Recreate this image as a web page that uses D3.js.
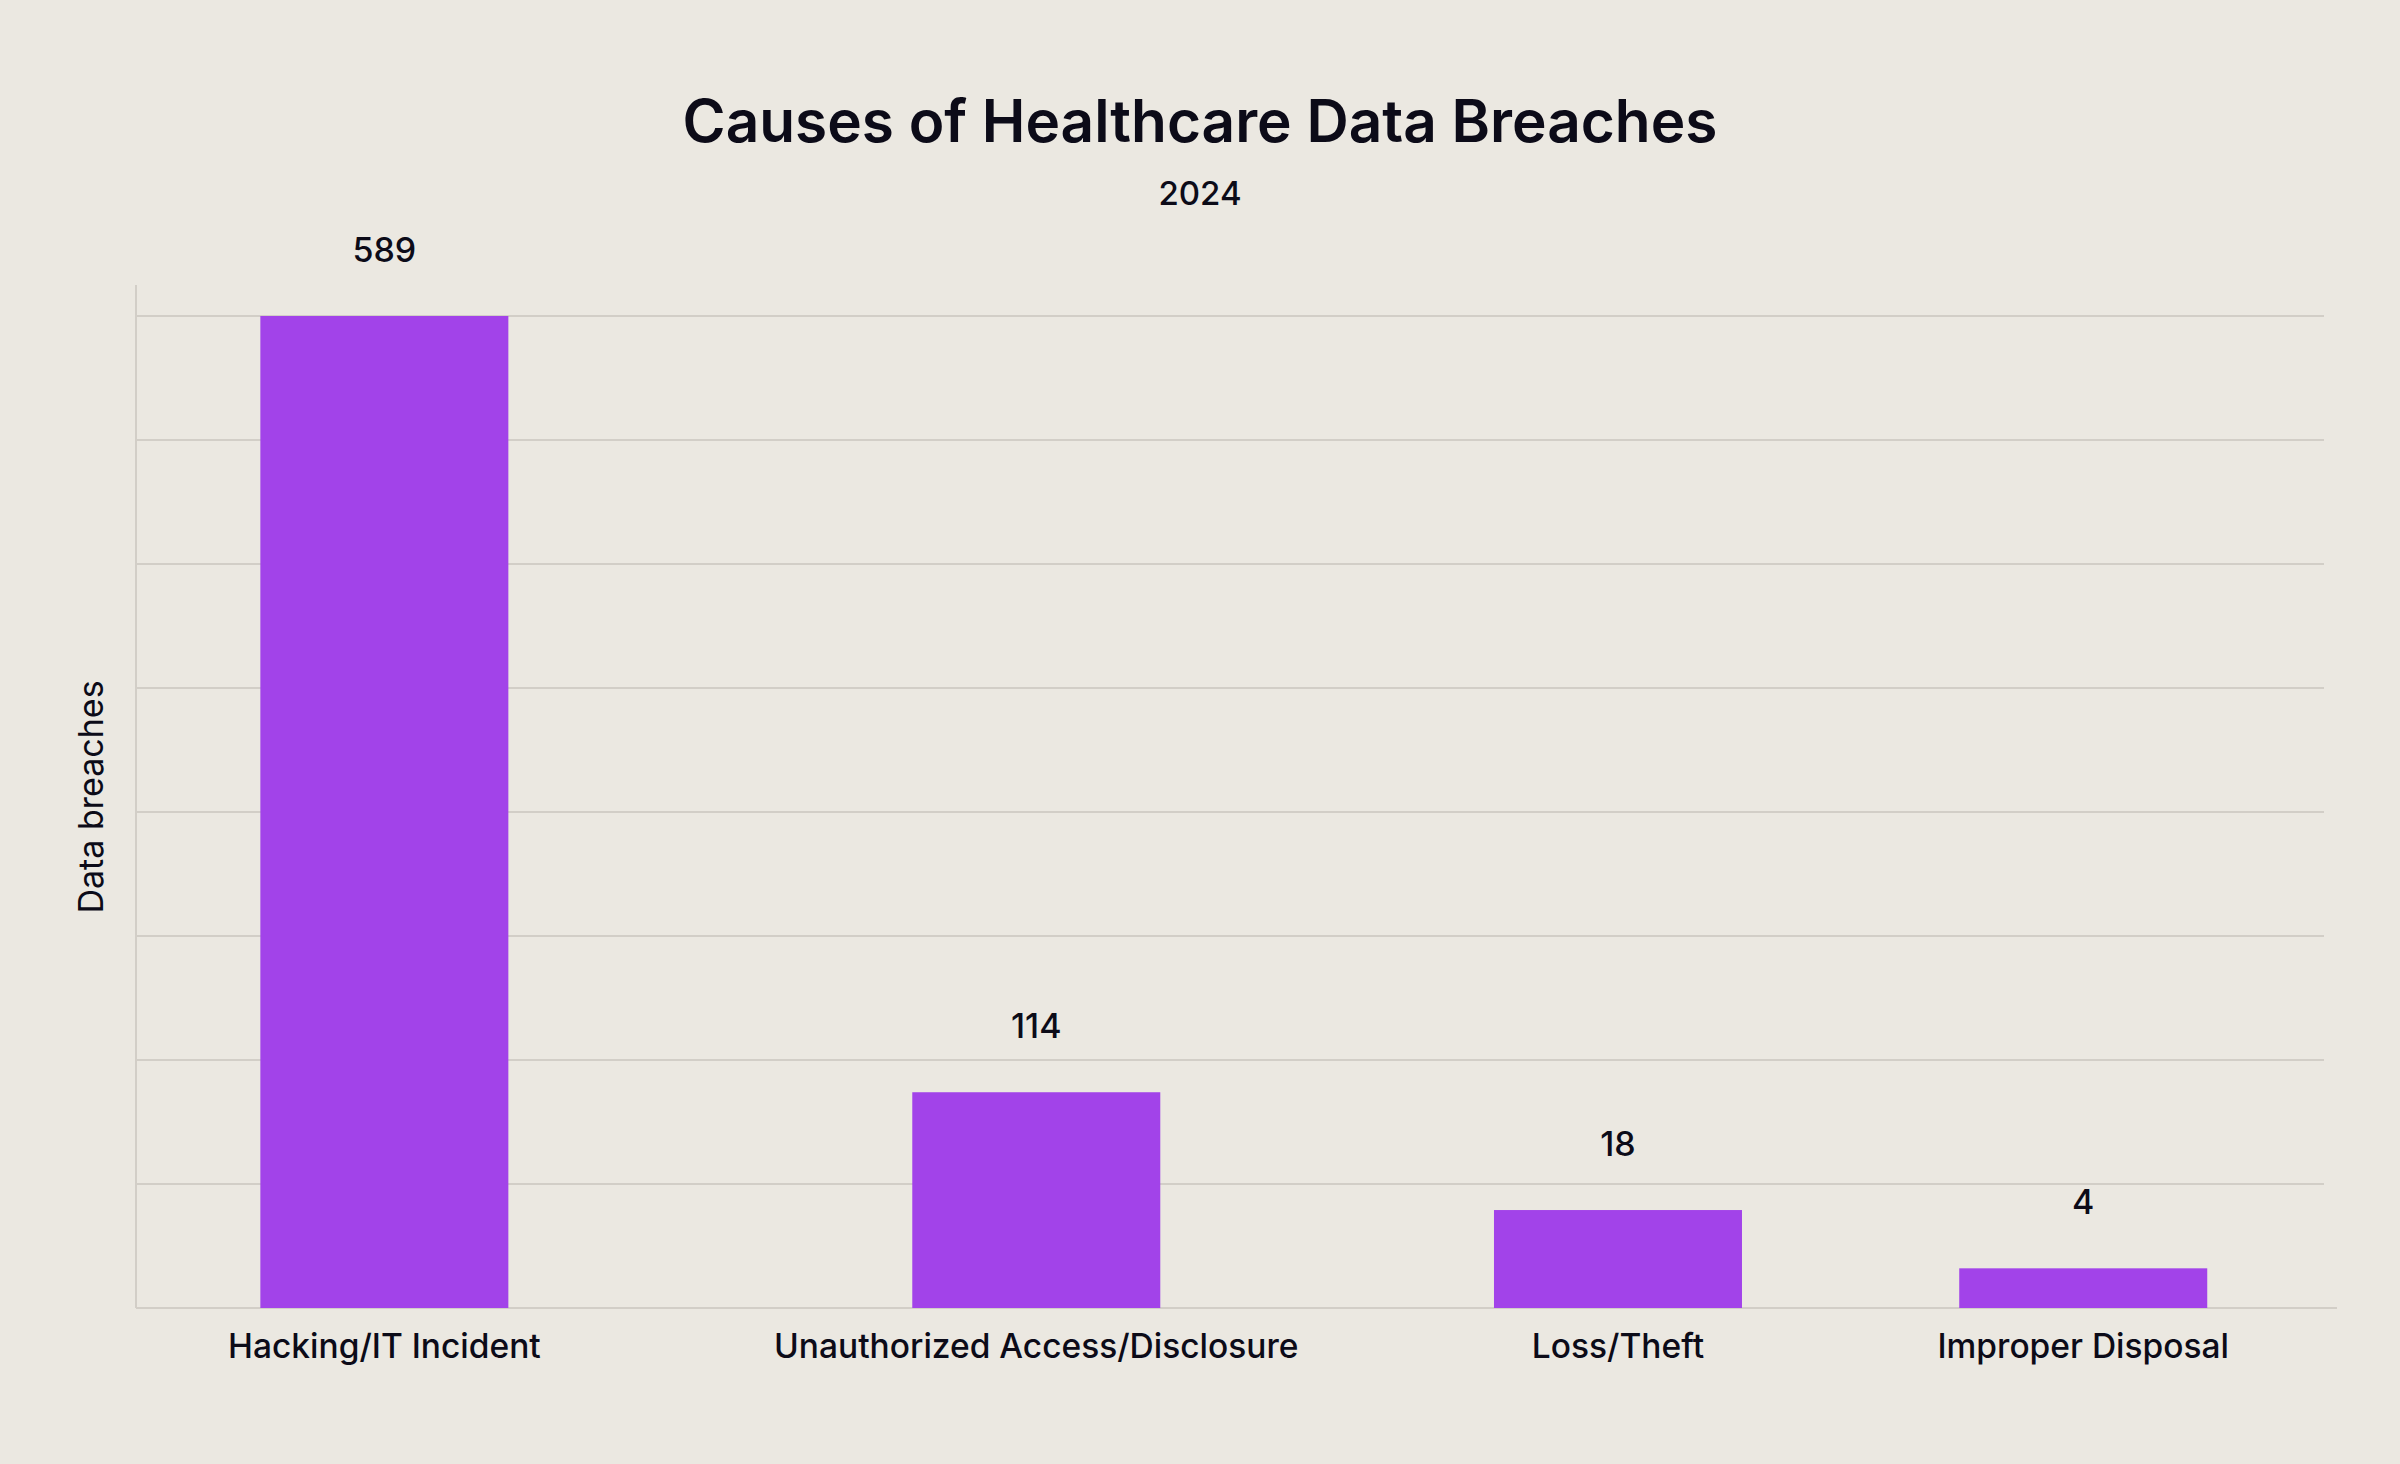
<!DOCTYPE html>
<html>
<head>
<meta charset="utf-8">
<script src="https://cdn.jsdelivr.net/npm/d3@7"></script>
<style>
	html, body { margin: 0; padding: 0; background: #ebe8e1; }
	svg { display: block; }
	text { font-family: "Inter", "Lato", sans-serif; fill: #0c0b18; }
</style>
</head>
<body>
<div id="chart"></div>
<script>

const categories = ["Hacking/IT Incident", "Unauthorized Access/Disclosure", "Loss/Theft", "Improper Disposal"]
const values = [589, 114, 18, 4]
// bar heights as drawn, in gridline steps (the picture's y axis is not linear in the labels)
const barLevels = [8, 1.74, 0.79, 0.32]
const gridSteps = [0, 1, 2, 3, 4, 5, 6, 7, 8]

const width = 2400
const height = 1464
const margin = { left: 136, right: 76, top: 316, bottom: 156 }
const barWidth = 248
const barColor = "#a243e9"
const gridColor = "#d2cec7"

const svg = d3.select("#chart").append("svg")
	.attr("width", width)
	.attr("height", height)

svg.append("rect")
	.attr("width", width)
	.attr("height", height)
	.attr("fill", "#ebe8e1")

const y = d3.scaleLinear()
	.domain([0, d3.max(gridSteps)])
	.range([height - margin.bottom, margin.top])

// title
svg.append("text")
	.attr("x", width / 2)
	.attr("y", 142)
	.attr("text-anchor", "middle")
	.style("font-size", "58.5px")
	.style("font-weight", 600)
	.text("Causes of Healthcare Data Breaches")

svg.append("text")
	.attr("x", width / 2)
	.attr("y", 205)
	.attr("text-anchor", "middle")
	.style("font-size", "33px")
	.style("font-weight", 500)
	.text("2024")

// gridlines
svg.append("g")
	.selectAll("line")
	.data(gridSteps.filter(d => d > 0))
	.join("line")
	.attr("x1", margin.left)
	.attr("x2", width - margin.right)
	.attr("y1", d => y(d))
	.attr("y2", d => y(d))
	.attr("stroke", gridColor)
	.attr("stroke-width", 2)

// axes
svg.append("line")
	.attr("x1", margin.left)
	.attr("x2", margin.left)
	.attr("y1", y(d3.max(gridSteps)) - 31)
	.attr("y2", y(0))
	.attr("stroke", gridColor)
	.attr("stroke-width", 2)

svg.append("line")
	.attr("x1", margin.left)
	.attr("x2", width - margin.right + 13)
	.attr("y1", y(0))
	.attr("y2", y(0))
	.attr("stroke", gridColor)
	.attr("stroke-width", 2)

svg.append("text")
	.attr("transform", `translate(${margin.left - 33}, ${(y(0) + y(d3.max(gridSteps))) / 2 - 15}) rotate(-90)`)
	.attr("text-anchor", "middle")
	.style("font-size", "34px")
	.style("font-weight", 400)
	.text("Data breaches")

// category labels, spaced with equal gaps between them
const labelGroup = svg.append("g")
const labels = labelGroup.selectAll("text")
	.data(categories)
	.join("text")
	.attr("y", 1358)
	.attr("text-anchor", "middle")
	.style("font-size", "33.5px")
	.style("font-weight", 500)
	.text(d => d)

const labelWidths = labels.nodes().map(n => n.getComputedTextLength())
const labelStart = margin.left + 92
const labelEnd = 2229
const gap = (labelEnd - labelStart - d3.sum(labelWidths)) / (categories.length - 1)
const centers = []
let cursor = labelStart
labelWidths.forEach(w => {
	centers.push(cursor + w / 2)
	cursor += w + gap
})
const x = d3.scaleOrdinal().domain(categories).range(centers)

labels.attr("x", d => x(d))

// bars
svg.append("g")
	.selectAll("rect")
	.data(categories)
	.join("rect")
	.attr("x", d => x(d) - barWidth / 2)
	.attr("width", barWidth)
	.attr("y", (d, i) => y(barLevels[i]))
	.attr("height", (d, i) => y(0) - y(barLevels[i]))
	.attr("fill", barColor)

// value labels
svg.append("g")
	.selectAll("text")
	.data(categories)
	.join("text")
	.attr("x", d => x(d))
	.attr("y", (d, i) => y(barLevels[i]) - 54)
	.attr("text-anchor", "middle")
	.style("font-size", "34px")
	.style("font-weight", 500)
	.text((d, i) => values[i])

</script>
</body>
</html>
